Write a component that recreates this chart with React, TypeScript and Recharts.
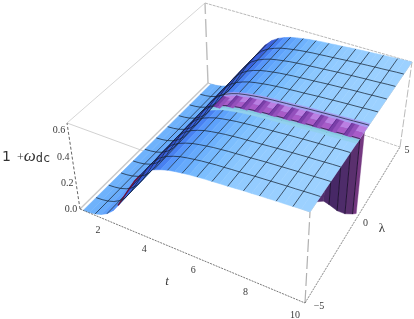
import React from "react";
import { ScatterChart, Scatter, XAxis, YAxis } from "recharts";

const WIDTH = 414;
const HEIGHT = 319;

// sample rows along t, every second one carries a mesh line
const T_ROWS = [
  1.15, 1.43, 1.7, 1.98, 2.26, 2.53, 2.81, 3.09, 3.36, 3.64, 3.92, 4.19, 4.47, 4.75, 5.02, 5.3, 5.58,
  5.85, 6.13, 6.41, 6.68, 6.96, 7.24, 7.51, 7.79, 8.07, 8.34, 8.62, 8.9, 9.17, 9.45, 9.72, 10,
];
const Z_ROWS = [
  0, 0.004, 0.012, 0.028, 0.055, 0.095, 0.16, 0.24, 0.32, 0.4, 0.465, 0.51, 0.54, 0.56, 0.575, 0.585, 0.593,
  0.6, 0.605, 0.61, 0.613, 0.617, 0.62, 0.624, 0.628, 0.631, 0.634, 0.637, 0.64, 0.642, 0.645, 0.648, 0.65,
];
const ROW_COLORS = [
  "#6fb2fb", "#6cb0fb", "#68acfb", "#60a2fb", "#5696fa", "#4a82f4", "#3f6eea", "#3858dc", "#3248cc", "#3040bc", "#3248c4", "#3a62dc", "#4880f0", "#5696fa", "#5ea2fb", "#66aafc",
  "#6eb2fd", "#76b9fd", "#7cbefe", "#82c2fe", "#88c5fe", "#8cc8ff", "#90caff", "#92cbff", "#94ccff", "#96cdff", "#98ceff", "#99cfff", "#9ad0ff", "#9bd0ff", "#9cd1ff", "#9cd1ff",
];
const LAMBDA_LINES = [
  -5, -4.09, -3.18, -2.27, -1.36, -0.45, 0.45, 1.36, 2.27, 3.18, 4.09, 5,
];

// purple ridge near lambda = 0
const RIDGE_T_START = 4.47;
const RIDGE_BANDS = [
  { from: -0.78, to: -0.62, color: "#92d0ee" },
  { from: -0.62, to: -0.49, color: "#86cbe0" },
  { from: -0.49, to: -0.05, color: "#a85cc8" },
  { from: -0.05, to: 0.31, color: "#bb7fe2" },
  { from: 0.31, to: 0.55, color: "#a79cf0" },
];
const RIDGE_NOTCH_T = [4.47, 5.02, 5.58, 6.13, 6.68, 7.24, 7.79, 8.34, 8.9, 9.45];

// hanging wall at t = 10
const WALL_LAMBDA = [-4.4, -3.75, -3.18, -2.27, -1.36, -0.45, 0];
const WALL_BOTTOM_Z = [0.65, 0.58, 0.49, 0.34, 0.21, 0.1, 0.05];
const WALL_COLORS = ["#553070", "#4c2a68", "#472866", "#4e2c6a", "#5a306e", "#743880"];
const WALL_LINES = [2, 3, 4, 5];

// underside of the rise, seen along the near edge
const UNDERSIDE_ROWS = [6, 7, 8, 9, 10];

const T_TICKS = [2, 4, 6, 8, 10];
const LAMBDA_TICKS = [-5, 0, 5];
const Z_TICKS = [0, 0.2, 0.4, 0.6];

const T_MIN = 1;
const T_MAX = 10;
const L_MIN = -5;
const L_MAX = 5;
const Z_TOP = 0.65;

// where the corners of the plot box land on the page, [t][lambda][z]
const BOX = [
  [
    [[80, 209], [67, 123]],
    [[208, 83], [205, 3]],
  ],
  [
    [[305, 303], [310, 212]],
    [[400, 147], [412, 62]],
  ],
];
// camera depth of the box, used as homogeneous weight
const DEPTH = { t: -0.13, l: 0.12, z: -0.05 };

function project(t: number, l: number, z: number) {
  const u = (t - T_MIN) / (T_MAX - T_MIN);
  const v = (l - L_MIN) / (L_MAX - L_MIN);
  const h = z / Z_TOP;
  let sx = 0;
  let sy = 0;
  let sw = 0;
  for (const a of [0, 1]) {
    for (const b of [0, 1]) {
      for (const c of [0, 1]) {
        const blend = (a ? u : 1 - u) * (b ? v : 1 - v) * (c ? h : 1 - h);
        const w = blend * (1 + DEPTH.t * a + DEPTH.l * b + DEPTH.z * c);
        sx += w * BOX[a][b][c][0];
        sy += w * BOX[a][b][c][1];
        sw += w;
      }
    }
  }
  return { x: sx / sw, y: sy / sw };
}

function zAt(t: number) {
  for (let i = 1; i < T_ROWS.length; i++) {
    if (t <= T_ROWS[i]) {
      const f = (t - T_ROWS[i - 1]) / (T_ROWS[i] - T_ROWS[i - 1]);
      return Z_ROWS[i - 1] + f * (Z_ROWS[i] - Z_ROWS[i - 1]);
    }
  }
  return Z_ROWS[Z_ROWS.length - 1];
}

const NoDot = () => <g />;

function renderPoly(key: string, pts: any[], fill?: string, stroke?: string, sw = 0.6, dash?: string, op?: number) {
  return (
    <Scatter
      key={key}
      data={pts}
      shape={NoDot}
      isAnimationActive={false}
      legendType="none"
      line={{
        fill: fill ?? "none",
        stroke: stroke ?? fill ?? "none",
        strokeWidth: sw,
        strokeDasharray: dash,
        strokeOpacity: op ?? 1,
      }}
    />
  );
}

const Tick = (props: any) => {
  const { cx, cy, payload } = props;
  return (
    <text
      x={cx + (payload.dx ?? 0)}
      y={cy + (payload.dy ?? 0)}
      textAnchor="middle"
      fontFamily="Liberation Serif"
      fontSize={payload.size ?? 10}
      fontStyle={payload.italic ? "italic" : "normal"}
      fill="#3a3a3a"
    >
      {payload.text}
    </text>
  );
};

const ZLabel = (props: any) => (
  <text x={props.cx} y={props.cy} fill="#333" fontFamily="DejaVu Sans" fontSize={14}>
    1
    <tspan dx={6} fontSize={12} fontFamily="Liberation Serif">+</tspan>
    <tspan fontStyle="italic" fontFamily="Liberation Serif" fontSize={17}>ω</tspan>
    <tspan fontFamily="DejaVu Sans Mono" fontSize={12} dy={1}>dc</tspan>
  </text>
);

const tickData = [
  ...T_TICKS.map((t) => ({ ...project(t, L_MIN, 0), text: String(t), dx: t === 10 ? -10 : -4, dy: 15 })),
  ...LAMBDA_TICKS.map((l) => ({ ...project(T_MAX, l, 0), text: l < 0 ? `\u2212${-l}` : String(l), dx: l < 0 ? 14 : l > 0 ? 7 : 10, dy: 6 })),
  ...Z_TICKS.map((z) => ({ ...project(T_MIN, L_MIN, z), text: z.toFixed(1), dx: -9, dy: 3 })),
  { x: 167, y: 285, text: "t", italic: true, size: 13 },
  { x: 382, y: 232, text: "\u03bb", size: 13 },
];

function buildMarks() {
  const marks: React.ReactNode[] = [];
  const edge = (key: string, a: number[], b: number[], color: string, sw = 0.7, dash?: string) =>
    marks.push(renderPoly(key, [project(a[0], a[1], a[2]), project(b[0], b[1], b[2])], undefined, color, sw, dash));

  // back edges of the box
  edge("e1", [1, -5, Z_TOP], [1, 5, Z_TOP], "#c4c4c4");
  edge("e2", [1, 5, Z_TOP], [10, 5, Z_TOP], "#9a9a9a", 0.7, "3 1");
  edge("e3", [1, -5, Z_TOP], [10, -5, Z_TOP], "#bdbdbd");
  edge("e4", [10, -5, Z_TOP], [10, 5, Z_TOP], "#bdbdbd");
  edge("e5", [1, 5, 0], [1, 5, Z_TOP], "#bdbdbd", 1.4, "18 5");
  edge("e6", [1, -5, 0], [1, 5, 0], "#c8c8c8", 1.4);
  edge("e7", [1, 5, 0], [10, 5, 0], "#a8a8a8", 0.7, "3 1");
  edge("e8", [10, 5, 0], [10, 5, Z_TOP], "#a8a8a8", 0.8, "8 2");
  edge("e9", [10, -5, 0], [10, -5, Z_TOP], "#b0b0b0", 1.2, "13 4");

  // wall under the far end
  WALL_COLORS.forEach((color, i) => {
    const pts = [
      project(T_MAX, WALL_LAMBDA[i], Z_TOP),
      project(T_MAX, WALL_LAMBDA[i + 1], Z_TOP),
      project(T_MAX, WALL_LAMBDA[i + 1], WALL_BOTTOM_Z[i + 1]),
      project(T_MAX, WALL_LAMBDA[i], WALL_BOTTOM_Z[i]),
    ];
    marks.push(renderPoly(`w${i}`, [...pts, pts[0]], color, color, 0.4));
  });
  WALL_LINES.forEach((i) => {
    marks.push(renderPoly(`wl${i}`, [project(T_MAX, WALL_LAMBDA[i], Z_TOP), project(T_MAX, WALL_LAMBDA[i], WALL_BOTTOM_Z[i])], undefined, "#1c1030", 0.9));
  });

  // surface, far rows first
  for (let i = 0; i < T_ROWS.length - 1; i++) {
    const pts = [
      project(T_ROWS[i], L_MIN, Z_ROWS[i]),
      project(T_ROWS[i], L_MAX, Z_ROWS[i]),
      project(T_ROWS[i + 1], L_MAX, Z_ROWS[i + 1]),
      project(T_ROWS[i + 1], L_MIN, Z_ROWS[i + 1]),
    ];
    marks.push(renderPoly(`s${i}`, [...pts, pts[0]], ROW_COLORS[i], ROW_COLORS[i], 0.5));
    if (i % 2 === 0 && i > 0) {
      marks.push(
        renderPoly(`ml${i}`, [project(T_ROWS[i], L_MIN, Z_ROWS[i]), project(T_ROWS[i], L_MAX, Z_ROWS[i])], undefined, "#14202f", 0.8, undefined, 0.9),
      );
    }
  }

  marks.push(
    renderPoly("under", UNDERSIDE_ROWS.map((i) => project(T_ROWS[i], L_MIN, Z_ROWS[i])), undefined, "#6a1238", 1.4),
  );

  // ridge bands sit on the surface
  const ridgeTs = T_ROWS.filter((t) => t >= RIDGE_T_START);
  RIDGE_BANDS.forEach((band, i) => {
    const lower = ridgeTs.map((t) => project(t, band.from, zAt(t)));
    const upper = ridgeTs.map((t) => project(t, band.to, zAt(t))).reverse();
    const pts = [...lower, ...upper, lower[0]];
    marks.push(renderPoly(`rb${i}`, pts, band.color, band.color, 0.3));
  });

  // t lines on top
  LAMBDA_LINES.forEach((l, j) => {
    if (j === 0 || j === LAMBDA_LINES.length - 1) return;
    marks.push(
      renderPoly(`tl${j}`, T_ROWS.map((t, i) => project(t, l, Z_ROWS[i])), undefined, "#14202f", 0.8, undefined, 0.9),
    );
  });

  // each mesh cell of the ridge starts dark and fades out
  RIDGE_NOTCH_T.forEach((t, i) => {
    const z = zAt(t);
    const block = (key: string, t0: number, t1: number, color: string) => {
      const pts = [project(t0, -0.49, z), project(t1, -0.49, z), project(t1, 0.31, z), project(t0, 0.31, z)];
      marks.push(renderPoly(key, [...pts, pts[0]], color, color, 0.2));
    };
    block(`rn${i}c`, t + 0.12, t + 0.26, "#9450bc");
    block(`rn${i}b`, t, t + 0.12, "#7a3ea8");
    marks.push(renderPoly(`rn${i}l`, [project(t, -0.49, z), project(t, 0.31, z)], undefined, "#552a8c", 0.8));
  });

  // axes in front
  edge("a1", [1, -5, 0], [10, -5, 0], "#555", 0.8, "2 1");
  edge("a2", [10, -5, 0], [10, 5, 0], "#666", 0.8, "2 1");
  edge("a3", [1, -5, 0], [1, -5, Z_TOP], "#555", 0.9, "3 2");
  return marks;
}

export default function App() {
  return (
    <div style={{ position: "absolute", left: 0, top: 0, width: WIDTH, height: HEIGHT, background: "#fff", filter: "blur(0.35px)" }}>
      <ScatterChart width={WIDTH} height={HEIGHT} margin={{ top: 0, right: 0, bottom: 0, left: 0 }}>
        <XAxis type="number" dataKey="x" domain={[0, WIDTH]} hide />
        <YAxis type="number" dataKey="y" domain={[0, HEIGHT]} reversed hide />
        {buildMarks()}
        <Scatter data={tickData} shape={Tick} isAnimationActive={false} legendType="none" />
        <Scatter data={[{ x: 2, y: 161 }]} shape={ZLabel} isAnimationActive={false} legendType="none" />
      </ScatterChart>
    </div>
  );
}
